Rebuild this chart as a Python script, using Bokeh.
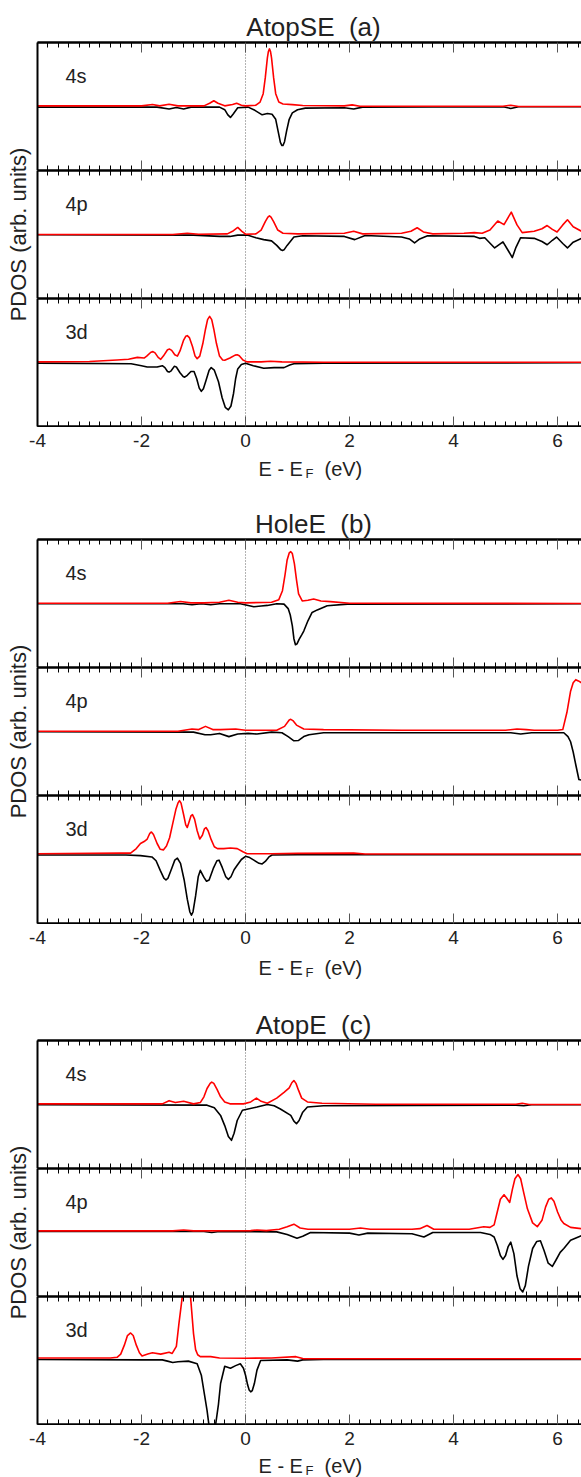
import math
from bokeh.plotting import figure
from bokeh.models import Range1d, LinearAxis, FixedTicker, Span, Label
from bokeh.core.properties import value
from bokeh.layouts import row, column
from bokeh.embed import file_html
from bokeh.resources import INLINE

FONT = "Liberation Sans"
E_RANGE = (-4.0, 6.46)
X_TICKS = [-4, -2, 0, 2, 4, 6]
X_TICK_LABELS = ["-4", "-2", "0", "2", "4", "6"]
MINOR_TICKS = [round(-4 + 0.2 * i, 2) for i in range(53)]
ORBITALS = ["4s", "4p", "3d"]
TITLES = ["AtopSE \u00a0(a)", "HoleE \u00a0(b)", "AtopE \u00a0(c)"]
Y_LABEL = "PDOS (arb. units)"

# ---- AtopSE (a) ----
a4s_up = [(-4.0,0.01),(-2.0,0.01),(-1.79,0.03),(-1.65,0.01),(-1.47,0.035),(-1.3,0.01),(-0.8,0.01),(-0.69,0.05),(-0.61,0.09),(-0.53,0.05),(-0.4,0.01),(-0.25,0.03),(-0.17,0.05),(-0.08,0.02),(0.0,0.01),(0.2,0.02),(0.28,0.07),(0.34,0.2),(0.38,0.45),(0.42,0.76),(0.44,0.86),(0.46,0.9),(0.48,0.86),(0.5,0.76),(0.54,0.45),(0.58,0.2),(0.64,0.07),(0.72,0.04),(0.9,0.03),(1.1,0.015),(1.9,0.01),(2.05,0.025),(2.2,0.005),(4.95,0.005),(5.1,0.02),(5.25,0.0),(6.46,0.0)]
a4s_dn = [(-4.0,-0.01),(-1.7,-0.01),(-1.47,-0.04),(-1.33,-0.015),(-1.19,-0.04),(-1.05,-0.01),(-0.5,-0.01),(-0.4,-0.05),(-0.34,-0.13),(-0.29,-0.17),(-0.24,-0.12),(-0.15,-0.02),(0.05,-0.01),(0.18,-0.06),(0.32,-0.13),(0.42,-0.11),(0.51,-0.12),(0.58,-0.2),(0.63,-0.4),(0.67,-0.56),(0.7,-0.61),(0.72,-0.61),(0.75,-0.55),(0.79,-0.38),(0.84,-0.2),(0.9,-0.1),(1.0,-0.05),(1.15,-0.025),(1.9,-0.02),(2.08,-0.04),(2.25,-0.01),(4.95,-0.005),(5.1,-0.03),(5.25,-0.005),(6.46,-0.005)]
a4p_up = [(-4.0,0.0),(-1.4,0.0),(-1.12,0.02),(-0.9,0.005),(-0.35,0.01),(-0.25,0.05),(-0.15,0.11),(-0.07,0.05),(0.0,0.005),(0.2,0.01),(0.3,0.07),(0.38,0.2),(0.43,0.27),(0.46,0.29),(0.49,0.27),(0.54,0.2),(0.62,0.07),(0.72,0.02),(1.0,0.01),(1.9,0.02),(2.08,0.05),(2.25,0.01),(3.0,0.02),(3.18,0.05),(3.3,0.105),(3.42,0.04),(3.6,0.01),(4.2,0.02),(4.4,0.03),(4.55,0.02),(4.7,0.07),(4.85,0.21),(4.97,0.155),(5.11,0.35),(5.22,0.15),(5.32,0.03),(5.55,0.05),(5.7,0.09),(5.8,0.14),(5.9,0.08),(5.99,0.04),(6.1,0.15),(6.19,0.23),(6.3,0.12),(6.46,0.05)]
a4p_dn = [(-4.0,-0.005),(-1.0,-0.01),(-0.5,-0.03),(-0.3,-0.03),(-0.15,-0.01),(0.05,-0.01),(0.2,-0.05),(0.35,-0.08),(0.5,-0.1),(0.6,-0.17),(0.68,-0.24),(0.71,-0.25),(0.74,-0.24),(0.8,-0.17),(0.93,-0.04),(1.1,-0.02),(1.9,-0.03),(2.1,-0.08),(2.3,-0.015),(3.0,-0.04),(3.15,-0.07),(3.25,-0.13),(3.35,-0.07),(3.5,-0.02),(4.4,-0.03),(4.5,-0.06),(4.6,-0.05),(4.79,-0.21),(4.95,-0.115),(5.05,-0.25),(5.13,-0.36),(5.2,-0.2),(5.29,-0.05),(5.55,-0.06),(5.7,-0.11),(5.8,-0.16),(5.9,-0.09),(5.98,-0.04),(6.1,-0.14),(6.19,-0.21),(6.3,-0.12),(6.46,-0.06)]
a3d_up = [(-4.0,0.01),(-3.0,0.015),(-2.47,0.04),(-2.25,0.05),(-2.08,0.08),(-1.95,0.07),(-1.9,0.1),(-1.82,0.16),(-1.78,0.17),(-1.74,0.15),(-1.68,0.08),(-1.63,0.05),(-1.58,0.1),(-1.5,0.2),(-1.46,0.21),(-1.42,0.19),(-1.36,0.12),(-1.31,0.1),(-1.26,0.18),(-1.19,0.35),(-1.15,0.41),(-1.12,0.42),(-1.08,0.39),(-1.02,0.25),(-0.97,0.1),(-0.93,0.06),(-0.88,0.1),(-0.82,0.3),(-0.77,0.52),(-0.73,0.67),(-0.69,0.72),(-0.65,0.67),(-0.61,0.52),(-0.56,0.3),(-0.5,0.1),(-0.44,0.04),(-0.4,0.035),(-0.3,0.07),(-0.2,0.115),(-0.16,0.12),(-0.12,0.105),(-0.05,0.04),(0.03,0.01),(0.3,0.01),(0.48,0.02),(0.7,0.01),(1.5,0.005),(6.46,0.005)]
a3d_dn = [(-4.0,-0.01),(-2.2,-0.02),(-2.0,-0.05),(-1.89,-0.07),(-1.7,-0.07),(-1.6,-0.05),(-1.55,-0.08),(-1.5,-0.14),(-1.47,-0.15),(-1.43,-0.13),(-1.37,-0.06),(-1.33,-0.07),(-1.26,-0.16),(-1.2,-0.22),(-1.17,-0.23),(-1.12,-0.2),(-1.05,-0.14),(-0.99,-0.14),(-0.94,-0.25),(-0.89,-0.4),(-0.85,-0.45),(-0.81,-0.41),(-0.76,-0.28),(-0.7,-0.12),(-0.66,-0.08),(-0.6,-0.12),(-0.52,-0.3),(-0.45,-0.55),(-0.39,-0.7),(-0.33,-0.74),(-0.28,-0.68),(-0.23,-0.48),(-0.19,-0.25),(-0.15,-0.1),(-0.08,-0.03),(0.0,-0.01),(0.15,-0.05),(0.35,-0.09),(0.55,-0.08),(0.74,-0.08),(0.85,-0.04),(0.93,-0.02),(1.5,-0.01),(6.46,-0.005)]

# ---- HoleE (b) ----
b4s_up = [(-4.0,0.005),(-1.5,0.005),(-1.25,0.03),(-1.05,0.01),(-0.8,0.01),(-0.5,0.02),(-0.32,0.05),(-0.15,0.02),(0.0,0.01),(0.5,0.02),(0.64,0.06),(0.71,0.2),(0.76,0.45),(0.8,0.68),(0.84,0.79),(0.87,0.81),(0.9,0.78),(0.94,0.62),(0.98,0.37),(1.02,0.15),(1.09,0.04),(1.2,0.05),(1.31,0.07),(1.45,0.04),(1.63,0.03),(2.0,0.005),(6.46,0.0)]
b4s_dn = [(-4.0,-0.005),(-1.2,-0.005),(-1.03,-0.02),(-0.85,-0.005),(-0.67,-0.02),(-0.5,-0.005),(-0.1,-0.005),(0.16,-0.05),(0.3,-0.04),(0.42,-0.03),(0.6,-0.005),(0.74,-0.01),(0.82,-0.08),(0.86,-0.18),(0.9,-0.35),(0.93,-0.55),(0.96,-0.645),(0.99,-0.63),(1.03,-0.56),(1.08,-0.49),(1.12,-0.43),(1.2,-0.27),(1.28,-0.14),(1.38,-0.1),(1.57,-0.035),(1.96,-0.01),(6.46,-0.005)]
b4p_up = [(-4.0,0.005),(-1.3,0.005),(-1.03,0.04),(-0.9,0.03),(-0.77,0.08),(-0.63,0.03),(-0.48,0.03),(-0.19,0.04),(0.0,0.02),(0.6,0.02),(0.75,0.08),(0.84,0.18),(0.87,0.19),(0.91,0.17),(0.98,0.1),(1.12,0.04),(1.5,0.03),(3.0,0.02),(5.0,0.02),(5.22,0.04),(5.4,0.03),(5.55,0.02),(6.0,0.02),(6.1,0.03),(6.18,0.3),(6.25,0.63),(6.3,0.76),(6.35,0.81),(6.4,0.79),(6.46,0.76)]
b4p_dn = [(-4.0,-0.005),(-1.0,-0.01),(-0.78,-0.05),(-0.67,-0.05),(-0.5,-0.03),(-0.32,-0.08),(-0.15,-0.04),(0.05,-0.03),(0.22,-0.04),(0.5,-0.01),(0.7,-0.02),(0.82,-0.08),(0.93,-0.145),(1.02,-0.14),(1.12,-0.08),(1.22,-0.05),(1.5,-0.02),(5.1,-0.02),(5.29,-0.04),(5.5,-0.02),(6.12,-0.02),(6.2,-0.08),(6.25,-0.16),(6.3,-0.32),(6.35,-0.52),(6.41,-0.75),(6.46,-0.76)]
b3d_up = [(-4.0,0.01),(-2.4,0.02),(-2.21,0.02),(-2.1,0.09),(-2.02,0.17),(-1.95,0.2),(-1.89,0.24),(-1.84,0.33),(-1.81,0.35),(-1.77,0.31),(-1.7,0.17),(-1.64,0.08),(-1.58,0.07),(-1.52,0.13),(-1.46,0.26),(-1.4,0.48),(-1.34,0.7),(-1.3,0.8),(-1.27,0.84),(-1.24,0.8),(-1.19,0.62),(-1.15,0.46),(-1.12,0.42),(-1.08,0.52),(-1.05,0.6),(-1.02,0.62),(-0.98,0.55),(-0.93,0.37),(-0.88,0.24),(-0.83,0.3),(-0.79,0.4),(-0.76,0.42),(-0.72,0.37),(-0.66,0.23),(-0.6,0.12),(-0.54,0.09),(-0.42,0.09),(-0.29,0.1),(-0.16,0.09),(-0.05,0.04),(0.03,0.01),(0.5,0.01),(1.0,0.015),(2.08,0.02),(2.3,0.005),(6.46,0.005)]
b3d_dn = [(-4.0,-0.01),(-2.3,-0.01),(-2.02,-0.02),(-1.8,-0.04),(-1.72,-0.1),(-1.64,-0.25),(-1.57,-0.37),(-1.53,-0.4),(-1.49,-0.37),(-1.42,-0.22),(-1.36,-0.09),(-1.31,-0.06),(-1.25,-0.14),(-1.18,-0.4),(-1.12,-0.7),(-1.07,-0.9),(-1.04,-0.95),(-1.01,-0.9),(-0.96,-0.65),(-0.91,-0.35),(-0.87,-0.25),(-0.8,-0.36),(-0.75,-0.42),(-0.7,-0.4),(-0.62,-0.22),(-0.55,-0.1),(-0.51,-0.09),(-0.45,-0.2),(-0.38,-0.35),(-0.33,-0.39),(-0.28,-0.35),(-0.22,-0.24),(-0.16,-0.17),(-0.08,-0.08),(0.0,-0.03),(0.08,-0.05),(0.16,-0.09),(0.26,-0.14),(0.32,-0.15),(0.38,-0.11),(0.45,-0.04),(0.51,-0.01),(1.0,-0.005),(6.46,-0.005)]

# ---- AtopE (c) ----
c4s_up = [(-4.0,0.01),(-1.6,0.01),(-1.47,0.06),(-1.35,0.03),(-1.19,0.05),(-1.0,0.01),(-0.87,0.03),(-0.8,0.12),(-0.74,0.25),(-0.68,0.33),(-0.65,0.35),(-0.61,0.33),(-0.55,0.24),(-0.48,0.12),(-0.4,0.04),(-0.3,0.01),(-0.04,0.01),(0.1,0.04),(0.21,0.1),(0.3,0.05),(0.42,0.02),(0.6,0.1),(0.74,0.19),(0.84,0.26),(0.89,0.34),(0.93,0.375),(0.97,0.33),(1.02,0.22),(1.08,0.1),(1.19,0.04),(1.47,0.02),(2.5,0.005),(5.2,0.005),(5.32,0.02),(5.45,0.0),(6.46,0.0)]
c4s_dn = [(-4.0,-0.005),(-0.74,-0.01),(-0.6,-0.05),(-0.48,-0.17),(-0.4,-0.33),(-0.33,-0.5),(-0.27,-0.56),(-0.22,-0.45),(-0.16,-0.25),(-0.06,-0.09),(0.22,-0.04),(0.42,0.0),(0.55,-0.02),(0.67,-0.07),(0.87,-0.17),(0.93,-0.26),(0.98,-0.3),(1.03,-0.25),(1.1,-0.12),(1.19,-0.04),(1.5,-0.02),(5.2,-0.01),(5.35,-0.02),(5.5,-0.005),(6.46,-0.005)]
c4p_up = [(-4.0,0.005),(-1.4,0.005),(-1.19,0.02),(-1.0,0.005),(0.1,0.01),(0.22,0.02),(0.4,0.01),(0.65,0.03),(0.8,0.07),(0.93,0.11),(1.05,0.05),(1.2,0.03),(2.0,0.03),(2.21,0.05),(2.4,0.03),(3.2,0.03),(3.35,0.04),(3.49,0.09),(3.62,0.03),(4.3,0.03),(4.58,0.07),(4.7,0.06),(4.78,0.1),(4.84,0.3),(4.9,0.5),(4.97,0.57),(5.02,0.52),(5.08,0.45),(5.13,0.65),(5.18,0.82),(5.24,0.885),(5.29,0.82),(5.35,0.6),(5.42,0.35),(5.52,0.13),(5.61,0.07),(5.7,0.17),(5.77,0.38),(5.83,0.5),(5.88,0.52),(5.93,0.47),(6.0,0.3),(6.07,0.17),(6.12,0.12),(6.25,0.06),(6.46,0.04)]
c4p_dn = [(-4.0,-0.005),(-0.8,-0.005),(-0.65,-0.02),(-0.5,-0.005),(0.6,-0.01),(0.8,-0.05),(0.99,-0.11),(1.1,-0.08),(1.25,-0.02),(2.0,-0.03),(2.18,-0.06),(2.35,-0.03),(3.2,-0.04),(3.43,-0.09),(3.6,-0.02),(4.52,-0.02),(4.7,-0.05),(4.78,-0.09),(4.84,-0.22),(4.9,-0.38),(4.95,-0.44),(5.0,-0.38),(5.05,-0.24),(5.1,-0.17),(5.16,-0.35),(5.22,-0.7),(5.28,-0.9),(5.33,-0.95),(5.38,-0.85),(5.44,-0.55),(5.52,-0.27),(5.6,-0.16),(5.67,-0.15),(5.74,-0.3),(5.82,-0.5),(5.9,-0.55),(5.97,-0.45),(6.05,-0.33),(6.12,-0.27),(6.25,-0.14),(6.46,-0.07)]
c3d_up = [(-4.0,0.02),(-2.6,0.02),(-2.47,0.03),(-2.4,0.08),(-2.33,0.22),(-2.27,0.37),(-2.21,0.41),(-2.16,0.37),(-2.1,0.22),(-2.04,0.1),(-1.99,0.05),(-1.88,0.08),(-1.79,0.1),(-1.63,0.08),(-1.47,0.11),(-1.41,0.09),(-1.33,0.2),(-1.28,0.56),(-1.22,0.95),(-1.17,1.3),(-1.13,1.4),(-1.09,1.3),(-1.05,0.9),(-1.0,0.4),(-0.96,0.15),(-0.92,0.07),(-0.87,0.04),(-0.67,0.04),(-0.5,0.02),(0.0,0.015),(0.5,0.02),(0.97,0.04),(1.1,0.01),(6.46,0.005)]
c3d_dn = [(-4.0,-0.005),(-2.0,-0.01),(-1.6,-0.01),(-1.5,-0.03),(-1.4,-0.05),(-1.3,-0.04),(-1.1,-0.03),(-0.93,-0.07),(-0.85,-0.25),(-0.79,-0.55),(-0.74,-0.8),(-0.7,-1.05),(-0.64,-1.25),(-0.58,-1.05),(-0.52,-0.7),(-0.48,-0.38),(-0.4,-0.11),(-0.29,-0.14),(-0.19,-0.1),(-0.1,-0.07),(-0.04,-0.14),(0.0,-0.25),(0.04,-0.4),(0.07,-0.48),(0.1,-0.51),(0.13,-0.49),(0.17,-0.38),(0.22,-0.17),(0.29,-0.02),(0.8,-0.01),(1.0,-0.03),(1.1,-0.01),(1.5,-0.005),(6.46,-0.005)]

SERIES = [
    [(a4s_up, a4s_dn), (a4p_up, a4p_dn), (a3d_up, a3d_dn)],
    [(b4s_up, b4s_dn), (b4p_up, b4p_dn), (b3d_up, b3d_dn)],
    [(c4s_up, c4s_dn), (c4p_up, c4p_dn), (c3d_up, c3d_dn)],
]
# y-ranges per panel (zero line position differs slightly)
Y_LIMS = [
    [(-1.0, 1.0), (-1.0, 1.0), (-1.0, 1.0)],
    [(-1.0, 1.0), (-1.0, 1.0), (-1.08, 0.92)],
    [(-1.0, 1.0), (-1.02, 0.98), (-1.02, 0.98)],
]
BOTTOM = [71, 75, 53]        # space below each group's last frame
XLAB_BASE = [42, 44, 41]     # baseline of "E - E_F (eV)" below the last frame
SUB_DROP = 5                 # subscript drop below the baseline

PAGE_W, FW, FH, TOP, LEFT_W = 581, 544, 128, 42, 35
FRAME_X0 = LEFT_W + 2        # page x of the frames' left edge
PX_PER_E = FW / (E_RANGE[1] - E_RANGE[0])
PW = FW + 2


def hide_grid(p):
    for g in p.grid:
        g.visible = False


def edge_axes():
    minor = LinearAxis(ticker=FixedTicker(ticks=[], minor_ticks=MINOR_TICKS),
                       axis_line_color="black", axis_line_width=2,
                       major_tick_in=0, major_tick_out=0,
                       minor_tick_in=5, minor_tick_out=0,
                       minor_tick_line_color="black", minor_tick_line_width=1,
                       major_label_standoff=0)
    major = LinearAxis(ticker=FixedTicker(ticks=[], minor_ticks=X_TICKS),
                       axis_line_color="black", axis_line_width=2,
                       major_tick_in=0, major_tick_out=0,
                       minor_tick_in=10, minor_tick_out=0,
                       minor_tick_line_color="#555555", minor_tick_line_width=1,
                       major_label_standoff=0)
    return minor, major


def strip(width, height):
    s = figure(width=width, height=height, x_range=Range1d(0, 1), y_range=Range1d(0, 1),
               output_backend="svg", toolbar_location=None,
               x_axis_location=None, y_axis_location=None, min_border=0,
               outline_line_color=None)
    hide_grid(s)
    return s


def panel(gi, oi):
    up, dn = SERIES[gi][oi]
    top = 1 if oi == 0 else 0
    bottom = 1 if oi == 2 else 0
    p = figure(width=PW, height=FH + top + bottom,
               x_range=Range1d(*E_RANGE), y_range=Range1d(*Y_LIMS[gi][oi]),
               output_backend="svg", toolbar_location=None,
               x_axis_location=None, y_axis_location=None,
               min_border_left=2, min_border_right=0,
               min_border_top=top, min_border_bottom=bottom,
               outline_line_color=None, background_fill_color="white")
    hide_grid(p)
    for ax in edge_axes():
        p.add_layout(ax, "above")
    for ax in edge_axes():
        p.add_layout(ax, "below")
    left = LinearAxis(ticker=FixedTicker(ticks=[], minor_ticks=[]),
                      axis_line_color="black", axis_line_width=2,
                      major_tick_in=0, major_tick_out=0, minor_tick_in=0, minor_tick_out=0,
                      major_label_standoff=0)
    p.add_layout(left, "left")
    p.add_layout(Span(location=0, dimension="height", line_color="#666666",
                      line_width=1, line_dash="1 2", level="underlay"))
    p.line([v[0] for v in dn], [v[1] for v in dn], line_color="black",
           line_width=1.6, line_join="round")
    p.line([v[0] for v in up], [v[1] for v in up], line_color="#ff0000",
           line_width=1.6, line_join="round")
    p.add_layout(Label(x=28, y=FH - 33, x_units="screen", y_units="screen",
                       text=ORBITALS[oi], text_font=FONT, text_font_size="20px",
                       text_color="#222222", text_baseline="alphabetic"))
    return p


def xlabel_strip(gi):
    """Full-width strip under a group: tick labels and the x-axis title."""
    h = BOTTOM[gi] - 1
    x0 = E_RANGE[0] - FRAME_X0 / PX_PER_E   # same E scale as the panels above
    s = figure(width=PAGE_W, height=h, x_range=Range1d(x0, E_RANGE[1]),
               y_range=Range1d(0, h), output_backend="svg", toolbar_location=None,
               x_axis_location=None, y_axis_location=None, min_border=0,
               outline_line_color=None)
    hide_grid(s)
    s.text(x=X_TICKS, y=[h - 13] * len(X_TICKS), text=X_TICK_LABELS,
           text_align="center", text_baseline="middle",
           text_font=value(FONT), text_font_size=value("19px"), text_color="#222222")
    base = BOTTOM[gi] - XLAB_BASE[gi]
    common = dict(x_units="screen", y_units="screen", text_font=FONT,
                  text_color="#222222", text_baseline="alphabetic")
    s.add_layout(Label(x=258, y=base, text="E - E", text_font_size="20px", **common))
    s.add_layout(Label(x=305, y=base - SUB_DROP, text="F", text_font_size="13px", **common))
    s.add_layout(Label(x=324, y=base, text="(eV)", text_font_size="20px", **common))
    return s


groups = []
for gi in range(3):
    upper_h = TOP + 3 * FH + 1
    yl = strip(LEFT_W, upper_h)
    yl.add_layout(Label(x=18, y=upper_h - (TOP + 1.5 * FH), x_units="screen",
                        y_units="screen", text=Y_LABEL, angle=math.pi / 2,
                        text_font=FONT, text_font_size="22px", text_color="#222222",
                        text_align="center", text_baseline="middle"))

    title = strip(PW, TOP - 1)
    title.add_layout(Label(x=276, y=TOP - 1 - 26, x_units="screen", y_units="screen",
                           text=TITLES[gi], text_font=FONT, text_font_size="26px",
                           text_color="#222222", text_align="center",
                           text_baseline="alphabetic"))

    panels = column([title] + [panel(gi, oi) for oi in range(3)], spacing=0)
    groups.append(column([row([yl, panels], spacing=0), xlabel_strip(gi)], spacing=0))

layout = column(groups, spacing=0)
open("out.html", "w").write(file_html(layout, INLINE))
